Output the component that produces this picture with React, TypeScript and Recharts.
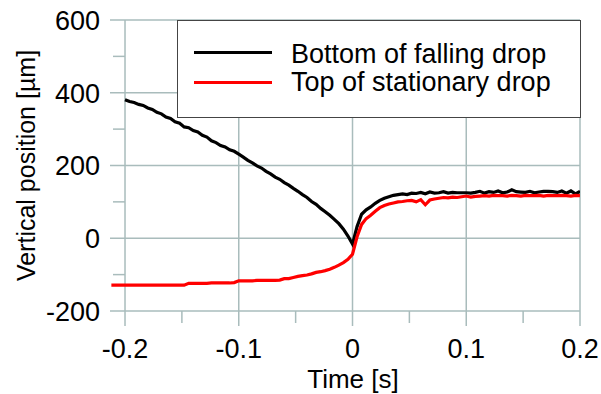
import React from 'react';
import { LineChart, Line, XAxis, YAxis, CartesianGrid, Legend, Label } from 'recharts';

// sampling grid (s)
const STEP = 0.004;
const BLACK_START = -0.2;
const RED_START = -0.212;

// bottom of falling drop, µm, from -0.2 s
const bottomFalling = [
  381, 376, 373, 368, 365, 358, 354, 346, 342, 333,
  329, 320, 316, 306, 304, 296, 292, 283, 278, 268,
  263, 255, 251, 243, 239, 231, 223, 214, 207, 199,
  193, 184, 177, 168, 162, 153, 146, 137, 129, 120,
  112, 101, 93, 82, 73, 63, 52, 40, 25, 6,
  -16, 32, 66, 78, 86, 96, 104, 110, 114, 118,
  120, 122, 120, 124, 123, 126, 122, 127, 124, 125,
  128, 124, 126, 125, 125, 125, 124, 126, 129, 124,
  128, 126, 130, 125, 127, 133, 128, 127, 126, 129,
  125, 127, 129, 129, 128, 126, 130, 124, 130, 122,
  129,
];

// top of stationary drop, µm, from -0.212 s
const topStationary = [
  -129, -129, -129, -129, -129, -129, -129, -129, -129, -129,
  -129, -129, -129, -129, -129, -129, -129, -124, -124, -124,
  -124, -124, -123, -123, -123, -123, -123, -122, -117, -117,
  -117, -117, -116, -116, -116, -116, -116, -115, -111, -111,
  -108, -105, -103, -101, -98, -94, -92, -89, -85, -80,
  -74, -67, -58, -44, 4, 38, 54, 63, 74, 84,
  90, 94, 97, 100, 101, 103, 104, 100, 106, 92,
  105, 108, 110, 112, 111, 113, 112, 114, 116, 113,
  115, 116, 117, 116, 118, 117, 117, 116, 118, 117,
  116, 118, 117, 117, 118, 116, 118, 117, 117, 118,
  117, 116, 118, 117,
];

const xMajor = [-0.2, -0.1, 0, 0.1, 0.2];
const xMinor = [-0.15, -0.05, 0.05, 0.15];
const yMajor = [-200, 0, 200, 400, 600];
const yMinor = [-100, 100, 300, 500];

const toPoints = (start: number, values: number[]) =>
  values.map((v, i) => ({ t: Math.round((start + i * STEP) * 1000) / 1000, v }));

const blackData = toPoints(BLACK_START, bottomFalling);
const redData = toPoints(RED_START, topStationary);

const GRID = '#a9bcbc';
const FONT = '"Liberation Sans", Arial, sans-serif';

const legendItems = [
  { name: 'Bottom of falling drop', color: '#000000' },
  { name: 'Top of stationary drop', color: '#ff0000' },
];

function XTick(props: any) {
  const { x, y, payload } = props;
  if (xMinor.includes(payload.value)) {
    return <line x1={x} x2={x} y1={y - 15} y2={y - 3} stroke={GRID} strokeWidth={1.5} />;
  }
  return (
    <text x={x} y={y + 31.5} textAnchor="middle" fontSize={27} fill="#000" fontFamily={FONT}>
      {String(payload.value)}
    </text>
  );
}

function YTick(props: any) {
  const { x, y, payload } = props;
  if (yMinor.includes(payload.value)) {
    return <line x1={x + 13} x2={x + 25} y1={y} y2={y} stroke={GRID} strokeWidth={1.5} />;
  }
  return (
    <text x={x} y={y + 10} textAnchor="end" fontSize={27} fill="#000" fontFamily={FONT}>
      {String(payload.value)}
    </text>
  );
}

function LegendBox() {
  return (
    <div
      style={{
        position: 'relative',
        width: 404,
        height: 98,
        boxSizing: 'border-box',
        border: '1.5px solid #444',
        background: '#fff',
        fontFamily: FONT,
        fontSize: 27,
        color: '#000',
      }}
    >
      {legendItems.map((it, i) => (
        <div key={it.name}>
          <div
            style={{
              position: 'absolute',
              left: 16,
              top: 30 + i * 30,
              width: 78,
              height: 3,
              background: it.color,
            }}
          />
          <div
            style={{
              position: 'absolute',
              left: 113,
              top: 18 + i * 28,
              lineHeight: '30px',
              whiteSpace: 'nowrap',
            }}
          >
            {it.name}
          </div>
        </div>
      ))}
    </div>
  );
}

export default function App() {
  return (
    <div style={{ position: 'absolute', left: 0, top: 0, width: 601, height: 394, background: '#fff' }}>
      <LineChart width={601} height={394} margin={{ top: 20, right: 21, bottom: 0, left: 30 }}>
        <CartesianGrid
          horizontalValues={yMajor}
          verticalValues={xMajor}
          stroke={GRID}
          strokeWidth={1.5}
        />
        <XAxis
          type="number"
          dataKey="t"
          domain={[-0.2132, 0.2]}
          allowDataOverflow
          ticks={[...xMajor, ...xMinor]}
          interval={0}
          axisLine={false}
          tickLine={false}
          tickSize={0}
          tickMargin={0}
          height={68}
          tick={<XTick />}
        >
          <Label
            content={() => (
              <text x={353} y={388} textAnchor="middle" fontSize={26} fill="#000" fontFamily={FONT}>
                Time [s]
              </text>
            )}
          />
        </XAxis>
        <YAxis
          type="number"
          domain={[-241.3, 600]}
          allowDataOverflow
          ticks={[...yMajor, ...yMinor]}
          interval={0}
          axisLine={false}
          tickLine={false}
          tickSize={0}
          tickMargin={10}
          width={80}
          tick={<YTick />}
        >
          <Label
            content={() => (
              <text
                x={35}
                y={165.5}
                textAnchor="middle"
                fontSize={25}
                fill="#000"
                fontFamily={FONT}
                transform="rotate(-90, 35, 165.5)"
              >
                Vertical position [µm]
              </text>
            )}
          />
        </YAxis>
        <Legend
          layout="vertical"
          align="center"
          verticalAlign="middle"
          wrapperStyle={{ left: 177, top: 20, width: 404, height: 98 }}
          content={<LegendBox />}
        />
        <Line
          data={blackData}
          dataKey="v"
          name="Bottom of falling drop"
          stroke="#000000"
          strokeWidth={3.2}
          dot={false}
          type="linear"
          isAnimationActive={false}
        />
        <Line
          data={redData}
          dataKey="v"
          name="Top of stationary drop"
          stroke="#ff0000"
          strokeWidth={3.2}
          dot={false}
          type="linear"
          isAnimationActive={false}
        />
      </LineChart>
    </div>
  );
}
